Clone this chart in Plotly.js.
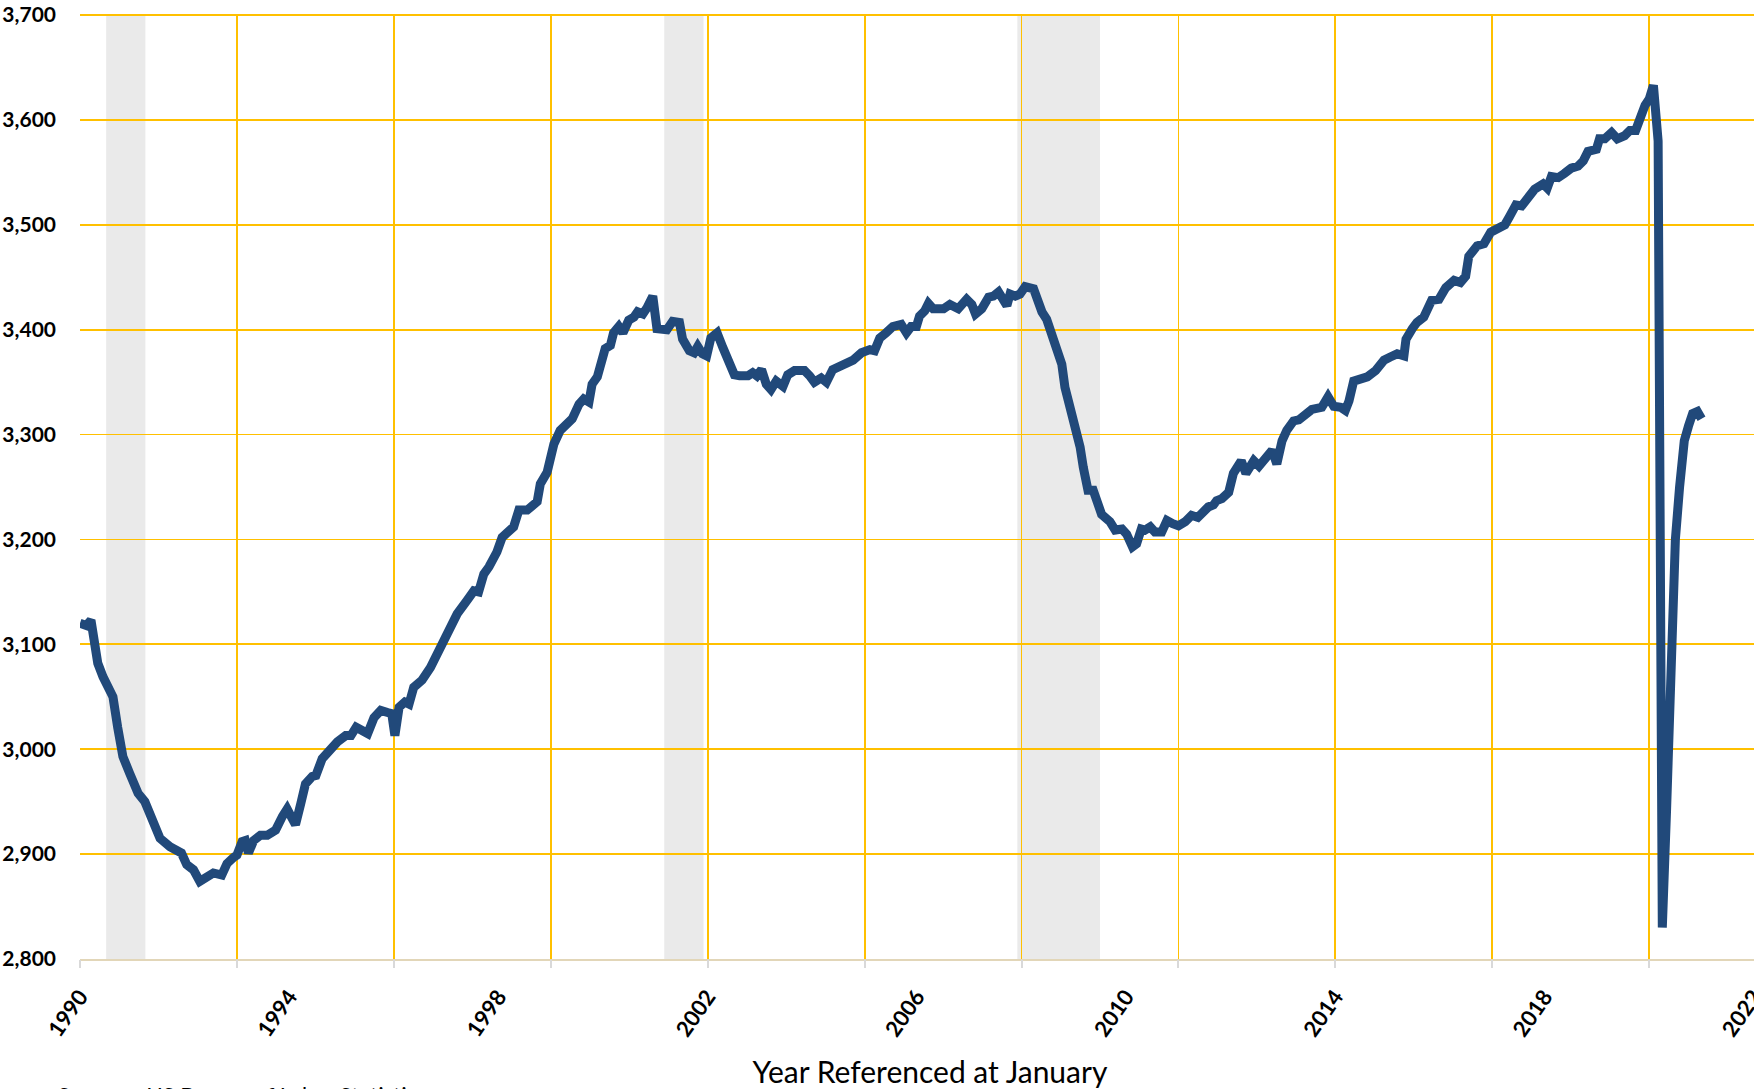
<!DOCTYPE html>
<html>
<head>
<meta charset="utf-8">
<script src="https://cdn.plot.ly/plotly-3.0.1.min.js"></script>
<style>
  html, body { margin: 0; padding: 0; overflow: hidden; background: #fff; }
  #chart { width: 1790px; height: 1089px; }
</style>
</head>
<body>
<div id="chart"></div>
<script>
// Time in decimal years (January = .00)
const timeYears = [
  1990.00,1990.12,1990.21,1990.28,1990.34,1990.44,1990.63,1990.72,1990.82,1990.95,
  1991.11,1991.24,1991.40,1991.53,1991.72,1991.85,1991.94,1992.04,1992.17,1992.29,
  1992.42,1992.55,1992.71,1992.81,1992.94,1993.00,1993.10,1993.16,1993.22,1993.32,
  1993.45,1993.58,1993.74,1993.80,1993.87,1993.96,1994.06,1994.12,1994.22,1994.31,
  1994.44,1994.51,1994.63,1994.73,1994.92,1995.08,1995.18,1995.28,1995.37,1995.50,
  1995.62,1995.75,1995.88,1995.96,1996.02,1996.10,1996.21,1996.29,1996.38,1996.54,
  1996.70,1996.86,1997.05,1997.21,1997.40,1997.53,1997.62,1997.72,1997.82,1997.97,
  1998.07,1998.20,1998.29,1998.39,1998.55,1998.74,1998.80,1998.93,1999.06,1999.18,
  1999.34,1999.41,1999.54,1999.63,1999.73,1999.79,1999.89,1999.98,2000.04,2000.14,
  2000.20,2000.30,2000.38,2000.49,2000.59,2000.66,2000.76,2000.84,2000.95,2001.03,
  2001.13,2001.22,2001.33,2001.46,2001.52,2001.65,2001.74,2001.81,2001.90,2001.98,
  2002.06,2002.18,2002.29,2002.41,2002.51,2002.61,2002.77,2002.86,2002.94,2003.03,
  2003.12,2003.21,2003.31,2003.44,2003.53,2003.66,2003.85,2003.95,2004.04,2004.17,
  2004.27,2004.39,2004.52,2004.65,2004.78,2004.94,2005.10,2005.19,2005.29,2005.41,
  2005.54,2005.70,2005.80,2005.89,2005.99,2006.05,2006.15,2006.22,2006.31,2006.44,
  2006.51,2006.63,2006.79,2006.95,2007.05,2007.12,2007.24,2007.37,2007.46,2007.56,
  2007.66,2007.72,2007.78,2007.88,2007.97,2008.07,2008.23,2008.32,2008.39,2008.48,
  2008.58,2008.67,2008.77,2008.83,2008.93,2009.02,2009.12,2009.18,2009.27,2009.37,
  2009.47,2009.53,2009.69,2009.79,2009.92,2010.01,2010.12,2010.20,2010.29,2010.36,
  2010.46,2010.55,2010.68,2010.78,2010.89,2011.00,2011.13,2011.25,2011.37,2011.48,
  2011.57,2011.67,2011.73,2011.83,2011.96,2012.05,2012.20,2012.29,2012.44,2012.54,
  2012.66,2012.79,2012.88,2012.98,2013.07,2013.20,2013.30,2013.43,2013.55,2013.74,
  2013.86,2013.97,2014.10,2014.19,2014.26,2014.35,2014.48,2014.61,2014.77,2014.93,
  2015.05,2015.18,2015.31,2015.35,2015.47,2015.56,2015.69,2015.84,2015.98,2016.11,
  2016.27,2016.39,2016.49,2016.55,2016.71,2016.84,2016.97,2017.11,2017.24,2017.33,
  2017.45,2017.56,2017.68,2017.81,2017.97,2018.05,2018.13,2018.26,2018.38,2018.51,
  2018.64,2018.74,2018.83,2018.99,2019.05,2019.15,2019.28,2019.39,2019.53,2019.63,
  2019.74,2019.83,2019.92,2020.00,2020.08,2020.17,2020.25,2020.33,2020.42,2020.50,
  2020.58,2020.67,2020.75,2020.83,2020.92,2021.00
];

// Employment, thousands
const employment = [
  3120,3118,3123,3094,3082,3069,3050,3021,2993,2977,
  2958,2950,2932,2915,2907,2904,2901,2890,2885,2874,
  2878,2882,2880,2891,2897,2899,2912,2913,2901,2913,
  2918,2918,2923,2932,2936,2943,2932,2928,2948,2967,
  2974,2975,2991,2997,3007,3013,3013,3021,3018,3015,
  3030,3037,3035,3034,3013,3040,3045,3043,3059,3066,
  3078,3094,3113,3129,3142,3151,3150,3167,3174,3188,
  3202,3207,3212,3228,3228,3236,3253,3264,3291,3304,
  3310,3315,3329,3334,3331,3348,3355,3370,3382,3385,
  3397,3403,3397,3409,3412,3417,3415,3421,3432,3401,
  3401,3400,3408,3407,3391,3380,3378,3384,3377,3375,
  3392,3397,3383,3370,3357,3356,3356,3359,3356,3362,
  3348,3343,3351,3346,3357,3361,3361,3356,3350,3354,
  3350,3362,3365,3367,3371,3378,3381,3380,3392,3397,
  3403,3405,3397,3403,3403,3413,3418,3425,3420,3420,
  3420,3424,3420,3429,3424,3415,3420,3431,3432,3436,
  3429,3423,3434,3432,3434,3441,3439,3424,3417,3410,
  3397,3383,3367,3345,3326,3307,3288,3269,3247,3247,
  3234,3224,3217,3209,3210,3205,3193,3196,3210,3209,
  3212,3207,3207,3218,3215,3213,3217,3223,3221,3228,
  3231,3233,3237,3239,3245,3263,3275,3263,3275,3270,
  3278,3285,3272,3294,3304,3313,3314,3320,3324,3326,
  3336,3327,3326,3323,3332,3351,3352,3355,3361,3371,
  3374,3377,3375,3391,3401,3407,3412,3428,3429,3440,
  3447,3445,3451,3470,3480,3482,3493,3496,3500,3508,
  3519,3518,3527,3534,3539,3535,3546,3545,3549,3554,
  3556,3561,3570,3572,3582,3582,3588,3582,3585,3590,
  3590,3605,3614,3620,3633,3580,2830,2940,3070,3200,
  3250,3294,3308,3320,3322,3315
];

// Recessions (decimal years)
const recessionStart = [1990.50, 2001.17, 2007.92];
const recessionEnd   = [1991.25, 2001.92, 2009.50];

// Axis settings
const xRange = [1990, 2022.5];
const yRange = [2800, 3701];
const labelStep = 4;   // year labels every 4 years
const gridStep = 3;    // gridlines / ticks every 3 years

const shapes = recessionStart.map((s, i) => ({
  type: 'rect', xref: 'x', yref: 'paper',
  x0: s, x1: recessionEnd[i], y0: 0, y1: 1,
  fillcolor: 'rgba(200,200,200,0.38)', line: { width: 0 }, layer: 'between'
}));

const traces = [
  { // invisible copy so that the gridline axis is drawn
    x: timeYears, y: employment, xaxis: 'x2', yaxis: 'y', type: 'scatter', mode: 'lines',
    line: { color: 'rgba(0,0,0,0)', width: 0 }, hoverinfo: 'skip', showlegend: false
  },
  {
    x: timeYears, y: employment, type: 'scatter', mode: 'lines',
    line: { color: '#21497A', width: 9, shape: 'linear' },
    hoverinfo: 'x+y', showlegend: false
  }
];

const layout = {
  width: 1790, height: 1089,
  margin: { l: 80, r: 10, t: 14, b: 130 },
  paper_bgcolor: '#ffffff', plot_bgcolor: '#ffffff',
  font: { family: 'Lato, "Open Sans", sans-serif', color: '#000' },
  showlegend: false,
  xaxis: {
    type: 'linear', range: xRange, tick0: 1990, dtick: labelStep,
    tickformat: 'd', tickangle: -55,
    tickfont: { family: 'Lato', size: 22, weight: 'bold', color: '#000' },
    showgrid: false, zeroline: false, ticks: '', ticklabelstandoff: 14,
    showline: true, linecolor: '#E2D6B8', linewidth: 2,
    title: { text: 'Year Referenced at January', standoff: 22,
             font: { family: 'Lato', size: 30, color: '#000' } }
  },
  xaxis2: {
    type: 'linear', range: xRange, overlaying: 'x', anchor: 'y', side: 'bottom',
    tick0: 1990, dtick: gridStep, showticklabels: false,
    ticks: 'outside', ticklen: 8, tickcolor: '#D9D9D9', tickwidth: 2,
    showgrid: true, gridcolor: '#FFC000', gridwidth: 1.8, zeroline: false, showline: false
  },
  yaxis: {
    range: yRange, dtick: 100, tick0: 2800, tickformat: ',d',
    tickfont: { family: 'Lato', size: 21, weight: 'bold', color: '#000' },
    showgrid: true, gridcolor: '#FFC000', gridwidth: 1.8,
    zeroline: false, showline: false, ticks: '', ticklabelstandoff: 23
  },
  shapes: shapes,
  annotations: [{
    text: 'Source:\u00a0\u00a0\u00a0US Bureau of Labor Statistics',
    xref: 'paper', yref: 'paper', x: -0.014, y: -0.127,
    xanchor: 'left', yanchor: 'top', showarrow: false,
    font: { family: 'Lato', size: 22, color: '#000' }
  }]
};

Plotly.newPlot('chart', traces, layout, { displayModeBar: false, staticPlot: true });
</script>
</body>
</html>
